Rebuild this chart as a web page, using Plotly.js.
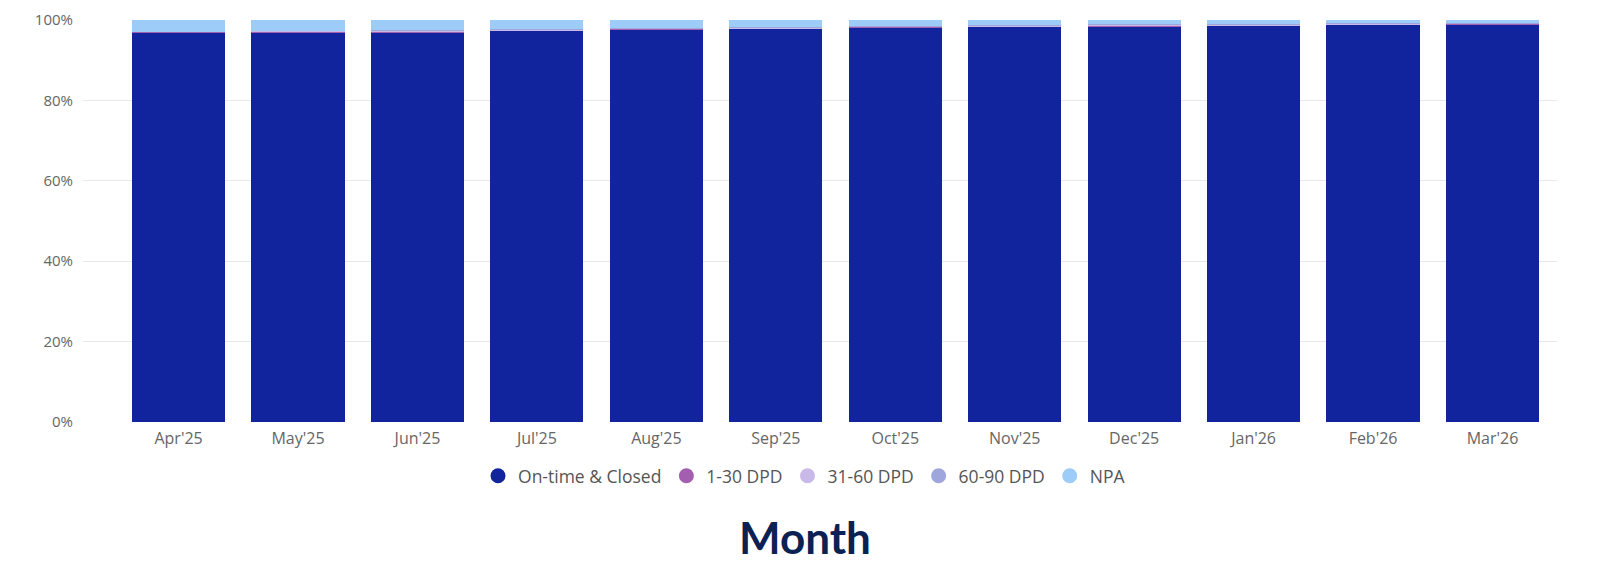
<!DOCTYPE html>
<html>
<head>
<meta charset="utf-8">
<script src="https://cdn.plot.ly/plotly-3.0.1.min.js"></script>
<style>
  html, body { margin: 0; padding: 0; background: #ffffff; overflow: hidden; }
  #chart { width: 100vw; height: 100vh; }
</style>
</head>
<body>
<div id="chart"></div>
<script>
  var months = ["Apr'25", "May'25", "Jun'25", "Jul'25", "Aug'25", "Sep'25",
                "Oct'25", "Nov'25", "Dec'25", "Jan'26", "Feb'26", "Mar'26"];

  // share of book in each bucket, percent
  var onTime    = [96.8, 96.9, 97.0, 97.3, 97.6, 97.8, 98.1, 98.3, 98.5, 98.6, 98.8, 99.0];
  var dpd1to30  = [0.25, 0.25, 0.25, 0.2, 0.2, 0.2, 0.2, 0.15, 0.15, 0.15, 0.15, 0.1];
  var dpd31to60 = [0.05, 0.05, 0.1, 0.1, 0.1, 0.2, 0.2, 0.15, 0.25, 0.15, 0.1, 0.1];
  var dpd60to90 = [0.0, 0.0, 0.05, 0.1, 0.1, 0.1, 0.1, 0.1, 0.1, 0.1, 0.1, 0.1];
  var npa       = [2.9, 2.8, 2.6, 2.3, 2.0, 1.7, 1.4, 1.3, 1.0, 1.0, 0.85, 0.7];

  var yTicks = [0, 20, 40, 60, 80, 100];
  var yTickText = ['0%', '20%', '40%', '60%', '80%', '100%'];

  var seriesNames = ['On-time &amp; Closed', '1-30 DPD', '31-60 DPD', '60-90 DPD', 'NPA'];
  var seriesValues = [onTime, dpd1to30, dpd31to60, dpd60to90, npa];
  var seriesColors = ['#12239E', '#A45EB0', '#C9B9E8', '#9FA6DB', '#9DCCF9'];

  var xIdx = months.map(function (_, i) { return i; });

  var traces = seriesValues.map(function (vals, i) {
    return {
      type: 'bar',
      name: seriesNames[i],
      x: xIdx,
      y: vals,
      width: 0.78,
      showlegend: false,
      marker: { color: seriesColors[i], line: { width: 0 } },
      hovertemplate: '%{y:.2f}%<extra>' + seriesNames[i] + '</extra>'
    };
  });

  // round legend markers like the original
  seriesNames.forEach(function (name, i) {
    traces.push({
      type: 'scatter',
      mode: 'markers',
      name: name,
      x: [null],
      y: [null],
      marker: { symbol: 'circle', size: 15, color: seriesColors[i] },
      hoverinfo: 'skip'
    });
  });

  var W = window.innerWidth || 1603;
  var H = window.innerHeight || 569;

  var layout = {
    barmode: 'stack',
    width: W,
    height: H,
    margin: { t: 20, r: 46, b: 147, l: 83 },
    paper_bgcolor: '#ffffff',
    plot_bgcolor: '#ffffff',
    font: { family: '"Open Sans", "Noto Sans", sans-serif', size: 16, color: '#666666' },
    bargap: 0,
    xaxis: {
      tickmode: 'array',
      tickvals: xIdx,
      ticktext: months,
      range: [-0.80, 11.54],
      showgrid: false,
      zeroline: false,
      showline: false,
      ticks: '',
      ticklabelstandoff: 5,
      tickfont: { size: 16, color: '#666666' }
    },
    yaxis: {
      range: [0, 100],
      tickmode: 'array',
      tickvals: yTicks,
      ticktext: yTickText,
      gridcolor: '#E8E8E8',
      gridwidth: 1,
      zeroline: false,
      showline: false,
      ticks: '',
      ticklabelstandoff: 9,
      tickfont: { size: 15, color: '#666666' }
    },
    legend: {
      orientation: 'h',
      x: 0.4895,
      xanchor: 'center',
      y: -0.134,
      yanchor: 'middle',
      traceorder: 'normal',
      font: { size: 17.5, color: '#555555' },
      itemwidth: 30,
      tracegroupgap: 0
    },
    // axis title sits centred on the page rather than the plot
    annotations: [{
      text: '<b>Month</b>',
      xref: 'paper',
      yref: 'paper',
      x: 0.4895,
      y: -0.286,
      xanchor: 'center',
      yanchor: 'middle',
      showarrow: false,
      font: { family: 'Lato, "Open Sans", sans-serif', size: 44, color: '#0B2154' }
    }],
    showlegend: true
  };

  Plotly.newPlot('chart', traces, layout, { displayModeBar: false });
</script>
</body>
</html>
